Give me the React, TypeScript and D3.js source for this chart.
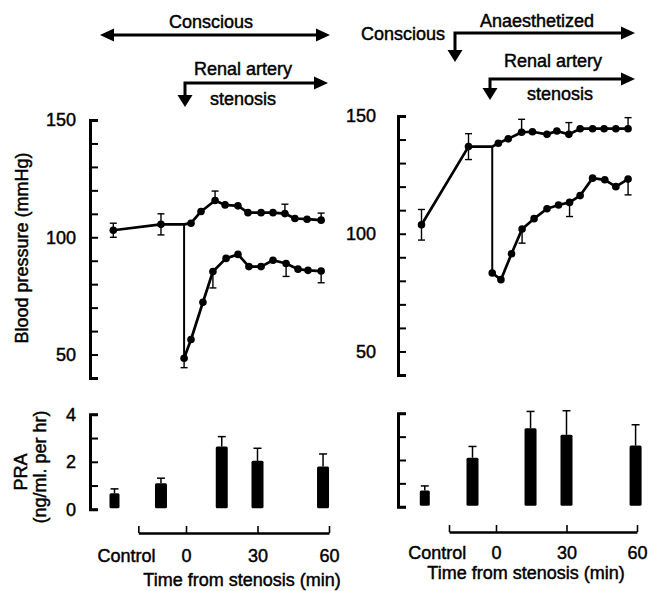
import React, { useEffect, useRef } from 'react';
import * as d3 from 'd3';

// ---- blood pressure, conscious panel (time in min from stenosis) ----
const leftCtrlT = [-30.5, -10.5];
const leftCtrlBP = [103, 105.5];
const leftCtrlErr = [3, 4.5];
const leftUpT = [2.1, 6.3, 12.2, 16.4, 21.8, 26, 31.5, 36.5, 41.5, 45.7, 50.8, 56.7];
const leftUpBP = [106, 111, 115.7, 113.8, 113.4, 110.5, 110.5, 110.5, 110.1, 108, 107.7, 107.3];
const leftUpErr = [0, 0, 4, 0, 0, 0, 0, 0, 4, 0, 0, 3];
const leftLowT = [-0.8, 2.1, 7.1, 11.3, 16.8, 21.8, 26.4, 31.5, 36.5, 42, 47, 51.2, 56.7];
const leftLowBP = [48.4, 56.4, 72.3, 85.4, 91, 92.7, 87.5, 87.5, 90.2, 88.8, 86.4, 85.9, 85.6];
const leftLowErr = [4, 0, 0, 7, 0, 0, 0, 0, 0, 5.5, 0, 0, 5];

// ---- blood pressure, anaesthetized panel ----
const rightCtrlT = [-31.7, -11.7];
const rightCtrlBP = [103.8, 137];
const rightCtrlErr = [6.5, 5.5];
const rightUpT = [1, 5.2, 10.9, 15.5, 21.7, 25.9, 31, 35.8, 41.1, 46, 51, 56.2];
const rightUpBP = [138.4, 140.3, 143.1, 143.3, 142.2, 143.6, 142.2, 144.6, 144.6, 144.6, 144.6, 144.6];
const rightUpErr = [0, 0, 5.5, 0, 0, 0, 5, 0, 0, 0, 0, 4.7];
const rightLowT = [-1.6, 2.1, 6.6, 11.1, 16.2, 21.7, 26.6, 31.3, 35.8, 41.1, 46.3, 51, 56.2];
const rightLowBP = [83.3, 80.5, 91.5, 102, 106.4, 110.6, 112.2, 113.3, 116.2, 123.6, 122.9, 120, 123.2];
const rightLowErr = [0, 0, 0, 6, 0, 0, 0, 6, 0, 0, 0, 0, 6.7];

// ---- plasma renin activity ----
const leftPraT = [-30, -10.5, 15, 30, 57.5];
const leftPra = [0.68, 1.1, 2.64, 2.04, 1.8];
const leftPraErr = [0.18, 0.21, 0.42, 0.53, 0.53];
const rightPraT = [-30.3, -10, 14.7, 30, 59.4];
const rightPra = [0.69, 2.1, 3.36, 3.08, 2.62];
const rightPraErr = [0.2, 0.48, 0.72, 1.03, 0.89];

const bpTicks = [40, 50, 60, 70, 80, 90, 100, 110, 120, 130, 140, 150];
const praTicks = [0, 1, 2, 3, 4];
const timeTicks = [-20, 0, 30, 60];

const FONT = '"Liberation Sans", Arial, Helvetica, sans-serif';
const TXT_STROKE = 0.45;

const panels = [
  {
    ctrlT: leftCtrlT, ctrlBP: leftCtrlBP, ctrlErr: leftCtrlErr,
    upT: leftUpT, upBP: leftUpBP, upErr: leftUpErr,
    lowT: leftLowT, lowBP: leftLowBP, lowErr: leftLowErr,
    praT: leftPraT, pra: leftPra, praErr: leftPraErr,
    xRange: [186, 329], bpRange: [378, 120], praRange: [509.3, 414.3],
    axisX: 90, labelPad: 14, praLabels: true,
    bracketY: 533, tickPad: 16, controlY: 562, titleX: 242, titleY: 586,
  },
  {
    ctrlT: rightCtrlT, ctrlBP: rightCtrlBP, ctrlErr: rightCtrlErr,
    upT: rightUpT, upBP: rightUpBP, upErr: rightUpErr,
    lowT: rightLowT, lowBP: rightLowBP, lowErr: rightLowErr,
    praT: rightPraT, pra: rightPra, praErr: rightPraErr,
    xRange: [496, 637], bpRange: [375, 116], praRange: [506.7, 413.3],
    axisX: 398, labelPad: 22, praLabels: false,
    bracketY: 532, tickPad: 14, controlY: 559, titleX: 526, titleY: 579,
  },
];

function styleAxis(g) {
  g.attr('font-family', FONT).attr('font-size', 18);
  g.selectAll('.domain').attr('stroke', '#000').attr('stroke-width', 3);
  g.selectAll('.tick line').attr('stroke', '#000').attr('stroke-width', 2);
  g.selectAll('.tick text').attr('fill', '#000').attr('stroke', '#000').attr('stroke-width', TXT_STROKE);
}

function drawPanel(svg, p) {
  const x = d3.scaleLinear().domain([0, 60]).range(p.xRange);
  const yBP = d3.scaleLinear().domain([40, 150]).range(p.bpRange);
  const yPRA = d3.scaleLinear().domain([0, 4]).range(p.praRange);
  const g = svg.append('g');

  // blood pressure axis
  const bpAxis = g.append('g')
    .attr('transform', 'translate(' + p.axisX + ',0)')
    .call(
      d3.axisLeft(yBP)
        .tickValues(bpTicks)
        .tickSizeInner(-8)
        .tickSizeOuter(-8)
        .tickPadding(p.labelPad)
        .tickFormat((d) => (d % 50 === 0 && d > 40 ? String(d) : ''))
    );
  styleAxis(bpAxis);

  // PRA axis
  const praAxis = g.append('g')
    .attr('transform', 'translate(' + p.axisX + ',0)')
    .call(
      d3.axisLeft(yPRA)
        .tickValues(praTicks)
        .tickSizeInner(-8)
        .tickSizeOuter(-8)
        .tickPadding(p.labelPad)
        .tickFormat((d) => (p.praLabels && d % 2 === 0 ? String(d) : ''))
    );
  styleAxis(praAxis);

  // time bracket under the bars
  const xb = d3.scaleLinear().domain([-20, 60]).range([x(-20), x(60)]);
  const timeAxis = g.append('g')
    .attr('transform', 'translate(0,' + p.bracketY + ')')
    .call(
      d3.axisBottom(xb)
        .tickValues(timeTicks)
        .tickSizeInner(-7)
        .tickSizeOuter(0)
        .tickPadding(p.tickPad)
        .tickFormat((d) => (d < 0 ? '' : String(d)))
    );
  styleAxis(timeAxis);
  timeAxis.selectAll('.domain').attr('stroke-width', 2.5);
  timeAxis.selectAll('.tick line').attr('stroke-width', 1.6);

  label(g, x(-25), p.controlY, 'Control');
  label(g, p.titleX, p.titleY, 'Time from stenosis (min)');

  // error bars (dir: 1 up, -1 down, 0 both)
  const errBar = (t, v, e, dir) => {
    const cx = x(t);
    const hi = dir >= 0 ? yBP(v + e) : yBP(v);
    const lo = dir <= 0 ? yBP(v - e) : yBP(v);
    g.append('line').attr('x1', cx).attr('x2', cx).attr('y1', hi).attr('y2', lo)
      .attr('stroke', '#000').attr('stroke-width', 1.4);
    if (dir >= 0)
      g.append('line').attr('x1', cx - 3.5).attr('x2', cx + 3.5).attr('y1', hi).attr('y2', hi)
        .attr('stroke', '#000').attr('stroke-width', 1.4);
    if (dir <= 0)
      g.append('line').attr('x1', cx - 3.5).attr('x2', cx + 3.5).attr('y1', lo).attr('y2', lo)
        .attr('stroke', '#000').attr('stroke-width', 1.4);
  };

  p.ctrlT.forEach((t, i) => errBar(t, p.ctrlBP[i], p.ctrlErr[i], 0));
  p.upT.forEach((t, i) => { if (p.upErr[i]) errBar(t, p.upBP[i], p.upErr[i], 1); });
  p.lowT.forEach((t, i) => { if (p.lowErr[i]) errBar(t, p.lowBP[i], p.lowErr[i], -1); });

  const line = d3.line().x((d) => x(d[0])).y((d) => yBP(d[1]));
  const junction = [p.lowT[0], p.ctrlBP[1]];
  const upPts = p.ctrlT.map((t, i) => [t, p.ctrlBP[i]])
    .concat([junction])
    .concat(p.upT.map((t, i) => [t, p.upBP[i]]));
  const lowPts = p.lowT.map((t, i) => [t, p.lowBP[i]]);

  g.append('line')
    .attr('x1', x(junction[0])).attr('x2', x(junction[0]))
    .attr('y1', yBP(junction[1])).attr('y2', yBP(p.lowBP[0]))
    .attr('stroke', '#000').attr('stroke-width', 2);

  [upPts, lowPts].forEach((pts) => {
    g.append('path').attr('d', line(pts)).attr('fill', 'none')
      .attr('stroke', '#000').attr('stroke-width', 2.7).attr('stroke-linejoin', 'round');
  });

  const dots = p.ctrlT.map((t, i) => [t, p.ctrlBP[i]])
    .concat(p.upT.map((t, i) => [t, p.upBP[i]]))
    .concat(lowPts);
  g.selectAll(null).data(dots).enter().append('circle')
    .attr('cx', (d) => x(d[0])).attr('cy', (d) => yBP(d[1])).attr('r', 3.8).attr('fill', '#000');

  // PRA bars
  p.praT.forEach((t, i) => {
    const w = i === 0 ? 10 : 12;
    const cx = x(t);
    const top = yPRA(p.pra[i]);
    const errTop = yPRA(p.pra[i] + p.praErr[i]);
    g.append('line').attr('x1', cx).attr('x2', cx).attr('y1', top).attr('y2', errTop)
      .attr('stroke', '#000').attr('stroke-width', 1.5);
    g.append('line').attr('x1', cx - 4).attr('x2', cx + 4).attr('y1', errTop).attr('y2', errTop)
      .attr('stroke', '#000').attr('stroke-width', 1.5);
    g.append('rect')
      .attr('x', cx - w / 2).attr('y', top)
      .attr('width', w).attr('height', yPRA(0) - top - 1)
      .attr('rx', 1.5).attr('fill', '#000');
  });
}

function label(sel, x, y, txt, transform = null) {
  const t = sel.append('text').attr('text-anchor', 'middle')
    .attr('font-family', FONT).attr('font-size', 18).attr('fill', '#000')
    .attr('stroke', '#000').attr('stroke-width', TXT_STROKE).text(txt);
  if (transform) t.attr('transform', transform);
  else t.attr('x', x).attr('y', y);
  return t;
}

function headRight(svg, x, y) {
  svg.append('path').attr('d', `M${x},${y} L${x - 14},${y - 6.5} L${x - 14},${y + 6.5} Z`).attr('fill', '#000');
}
function headLeft(svg, x, y) {
  svg.append('path').attr('d', `M${x},${y} L${x + 14},${y - 6.5} L${x + 14},${y + 6.5} Z`).attr('fill', '#000');
}
function headDown(svg, x, y) {
  svg.append('path').attr('d', `M${x},${y} L${x - 7.5},${y - 12} L${x + 7.5},${y - 12} Z`).attr('fill', '#000');
}

function bentArrow(svg, x0, y0, x1, yTip) {
  svg.append('path').attr('d', `M${x1 - 10},${y0} H${x0} V${yTip - 9}`)
    .attr('fill', 'none').attr('stroke', '#000').attr('stroke-width', 3);
  headRight(svg, x1, y0);
  headDown(svg, x0, yTip);
}

function drawHeaders(svg) {
  // conscious panel
  label(svg, 211, 28, 'Conscious');
  svg.append('line').attr('x1', 110).attr('x2', 320).attr('y1', 35).attr('y2', 35)
    .attr('stroke', '#000').attr('stroke-width', 3.2);
  headLeft(svg, 100, 35);
  headRight(svg, 330, 35);
  label(svg, 243, 75, 'Renal artery');
  bentArrow(svg, 185, 83, 328, 107);
  label(svg, 243, 105, 'stenosis');

  // anaesthetized panel
  label(svg, 403, 40, 'Conscious');
  label(svg, 537, 27, 'Anaesthetized');
  bentArrow(svg, 455, 33, 635, 62);
  label(svg, 553, 67, 'Renal artery');
  bentArrow(svg, 490, 79, 635, 100);
  label(svg, 560, 100, 'stenosis');

  // axis titles
  label(svg, 0, 0, 'Blood pressure (mmHg)', 'translate(28,248) rotate(-90)');
  label(svg, 0, 0, 'PRA', 'translate(27,472) rotate(-90)');
  label(svg, 0, 0, '(ng/ml. per hr)', 'translate(46,467) rotate(-90)');
}

export default function App() {
  const ref = useRef(null);

  useEffect(() => {
    const svg = d3.select(ref.current);
    svg.selectAll('*').remove();
    panels.forEach((p) => drawPanel(svg, p));
    drawHeaders(svg);
  }, []);

  return (
    <svg
      ref={ref}
      width={648}
      height={591}
      style={{ position: 'absolute', left: 0, top: 0, background: '#fff' }}
    />
  );
}
